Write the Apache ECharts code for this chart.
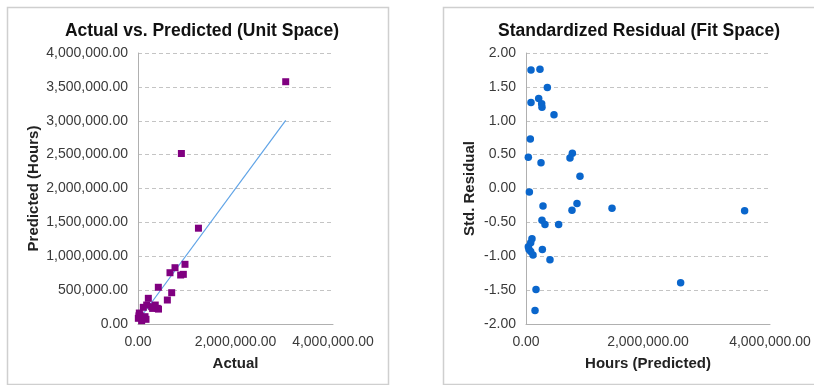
<!DOCTYPE html>
<html><head><meta charset="utf-8">
<script src="https://cdn.jsdelivr.net/npm/echarts@6/dist/echarts.min.js"></script>
<style>html,body{margin:0;padding:0;background:#fff;}#c{width:814px;height:385px;}</style>
</head><body><div id="c"></div>
<script>
// Left chart: Actual vs Predicted
var leftActual = [3030000, 890000, 1240000, 964000, 759000, 656000, 930000, 875000, 417000, 691000, 602000, 212000, 178000, 280000, 396000, 354000, 109000, 41000, 144000, 7000, 164000, 75000, 27000, 300000, 420000, 60000, 20000];
var leftPred   = [3576000, 2517000, 1414000, 881000, 831000, 757000, 733000, 723000, 542000, 462000, 354000, 379000, 280000, 256000, 231000, 280000, 246000, 133000, 108000, 84000, 69000, 49000, 162000, 230000, 220000, 100000, 120000];
var trendX = [40000, 3030000];
var trendY = [85000, 3005000];
// Right chart: Standardized residual vs predicted hours
var rightPred = [82000, 229000, 350000, 82000, 208000, 257000, 262000, 459000, 71000, 38000, 246000, 760000, 721000, 885000, 55000, 279000, 836000, 754000, 1410000, 3584000, 262000, 311000, 535000, 98000, 77000, 38000, 49000, 77000, 115000, 268000, 393000, 2535000, 164000, 148000];
var rightResid = [1.75, 1.76, 1.49, 1.27, 1.33, 1.25, 1.20, 1.09, 0.73, 0.46, 0.38, 0.52, 0.45, 0.18, -0.05, -0.26, -0.22, -0.32, -0.29, -0.33, -0.47, -0.53, -0.53, -0.74, -0.80, -0.86, -0.90, -0.93, -0.98, -0.90, -1.05, -1.39, -1.49, -1.80];

function fmtBig(v){ return Number(v).toLocaleString('en-US',{minimumFractionDigits:2,maximumFractionDigits:2}); }
function fmtSmall(v){ return Number(v).toFixed(2); }
function zip(a,b){ return a.map(function(v,i){ return [v,b[i]]; }); }

var FONT = 'Liberation Sans, Arial, sans-serif';
var labelStyle = {color:'#3a3a3a', fontSize:14, fontFamily:FONT};
var nameStyle = {color:'#222', fontSize:15, fontWeight:'bold', fontFamily:FONT};
var splitStyle = {show:true, lineStyle:{color:'#c4c4c4', type:[4,3], width:1}};
var axisLine = {show:true, onZero:false, lineStyle:{color:'#b0b0b0', width:1}};

var chart = echarts.init(document.getElementById('c'), null, {renderer:'canvas'});
chart.setOption({
  animation:false,
  backgroundColor:'#fff',
  graphic:[
    {type:'rect', shape:{x:7.5,y:7.5,width:381,height:377}, style:{fill:'none', stroke:'#cfcfcf', lineWidth:1.5}},
    {type:'rect', shape:{x:443.5,y:7.5,width:380,height:377}, style:{fill:'none', stroke:'#cfcfcf', lineWidth:1.5}}
  ],
  title:[
    {text:'Actual vs. Predicted (Unit Space)', left:197, top:17, textAlign:'center', textStyle:{fontSize:17.5, fontWeight:'bold', color:'#111', fontFamily:FONT}},
    {text:'Standardized Residual (Fit Space)', left:634, top:17, textAlign:'center', textStyle:{fontSize:17.5, fontWeight:'bold', color:'#111', fontFamily:FONT}}
  ],
  grid:[
    {left:138, top:53, width:195, height:271},
    {left:526, top:53, width:244, height:271}
  ],
  xAxis:[
    {gridIndex:0, type:'value', min:0, max:4000000, interval:2000000, name:'Actual', nameLocation:'middle', nameGap:32, nameTextStyle:nameStyle,
     axisLine:axisLine, axisTick:{show:false}, splitLine:{show:false}, axisLabel:Object.assign({formatter:fmtBig, margin:11}, labelStyle)},
    {gridIndex:1, type:'value', min:0, max:4000000, interval:2000000, name:'Hours (Predicted)', nameLocation:'middle', nameGap:32, nameTextStyle:nameStyle,
     axisLine:axisLine, axisTick:{show:false}, splitLine:{show:false}, axisLabel:Object.assign({formatter:fmtBig, margin:11}, labelStyle)}
  ],
  yAxis:[
    {gridIndex:0, type:'value', min:0, max:4000000, interval:500000, name:'Predicted (Hours)', nameLocation:'middle', nameGap:97, nameTextStyle:nameStyle,
     axisLine:axisLine, axisTick:{show:false}, splitLine:splitStyle, axisLabel:Object.assign({formatter:fmtBig, margin:10}, labelStyle)},
    {gridIndex:1, type:'value', min:-2, max:2, interval:0.5, name:'Std. Residual', nameLocation:'middle', nameGap:49, nameTextStyle:nameStyle,
     axisLine:axisLine, axisTick:{show:false}, splitLine:splitStyle, axisLabel:Object.assign({formatter:fmtSmall, margin:10}, labelStyle)}
  ],
  series:[
    {type:'line', xAxisIndex:0, yAxisIndex:0, data:zip(trendX,trendY), symbol:'none', lineStyle:{color:'#5fa3e6', width:1.2}, z:1},
    {type:'scatter', xAxisIndex:0, yAxisIndex:0, data:zip(leftActual,leftPred), symbol:'rect', symbolSize:7, itemStyle:{color:'#800080', opacity:1}, z:2},
    {type:'scatter', xAxisIndex:1, yAxisIndex:1, data:zip(rightPred,rightResid), symbol:'circle', symbolSize:7.5, itemStyle:{color:'#0a66cc', opacity:1}, z:2}
  ]
});
</script></body></html>
